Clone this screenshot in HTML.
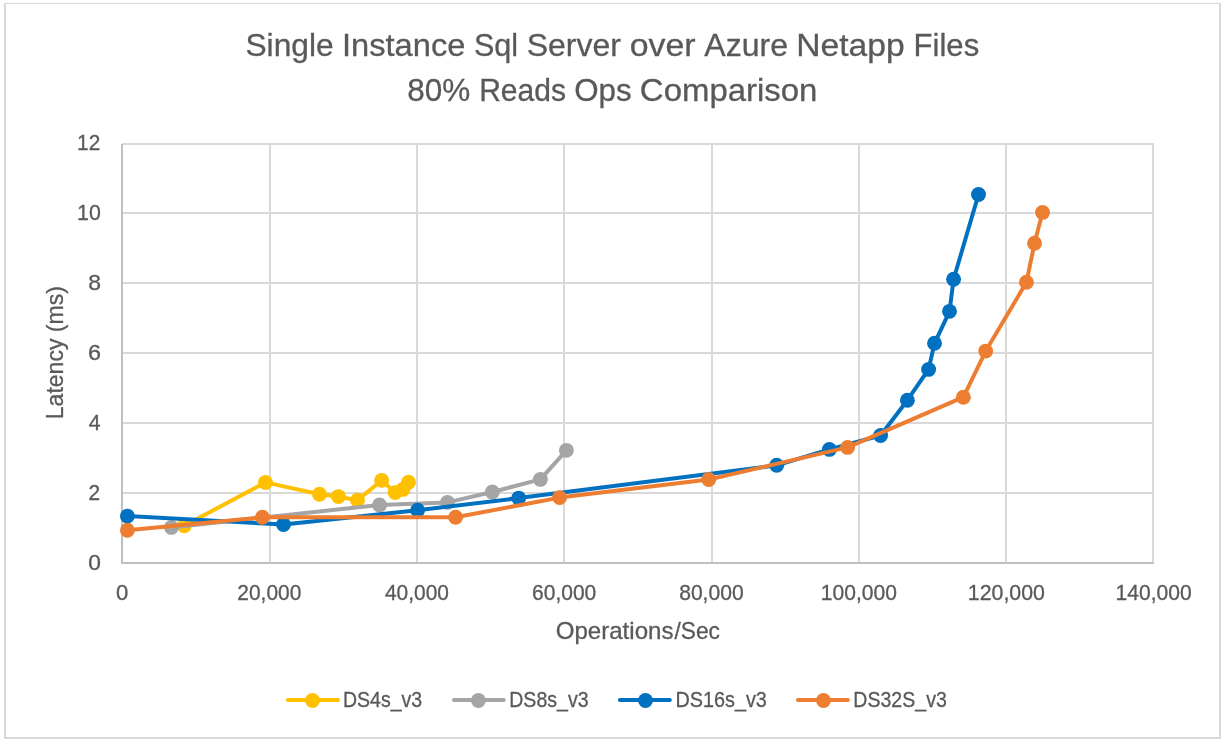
<!DOCTYPE html>
<html><head><meta charset="utf-8"><title>Chart</title>
<style>
html,body{margin:0;padding:0;background:#fff;}
body{width:1221px;height:740px;overflow:hidden;}
svg{display:block;will-change:transform;}
text{font-family:"Liberation Sans",sans-serif;fill:#595959;stroke:#595959;stroke-width:0.3px;}
</style></head><body>
<svg width="1221" height="740" viewBox="0 0 1221 740">
<rect x="0" y="0" width="1221" height="740" fill="#fff"/>
<g fill="#D9D9D9"><rect x="4" y="3" width="2" height="736"/><rect x="1219" y="3" width="2" height="736"/><rect x="4" y="2.9" width="1217" height="1.1"/><rect x="4" y="737" width="1217" height="2"/></g>
<g stroke="#D9D9D9" stroke-width="2" fill="none">
<line x1="122.00" y1="493.00" x2="1154.00" y2="493.00"/>
<line x1="122.00" y1="423.00" x2="1154.00" y2="423.00"/>
<line x1="122.00" y1="353.00" x2="1154.00" y2="353.00"/>
<line x1="122.00" y1="283.00" x2="1154.00" y2="283.00"/>
<line x1="122.00" y1="213.00" x2="1154.00" y2="213.00"/>
<line x1="122.00" y1="144.00" x2="1154.00" y2="144.00"/>
<line x1="270.00" y1="143.00" x2="270.00" y2="563.00"/>
<line x1="417.00" y1="143.00" x2="417.00" y2="563.00"/>
<line x1="564.00" y1="143.00" x2="564.00" y2="563.00"/>
<line x1="712.00" y1="143.00" x2="712.00" y2="563.00"/>
<line x1="859.00" y1="143.00" x2="859.00" y2="563.00"/>
<line x1="1006.00" y1="143.00" x2="1006.00" y2="563.00"/>
<line x1="1153.00" y1="143.00" x2="1153.00" y2="563.00"/>
</g>
<g stroke="#BFBFBF" stroke-width="2" fill="none">
<line x1="122.00" y1="144.00" x2="122.00" y2="564.00"/>
<line x1="121.00" y1="563.00" x2="1154.00" y2="563.00"/>
</g>
<g>
<polyline fill="none" stroke="#FFC000" stroke-width="4.0" stroke-linejoin="round" stroke-linecap="round" points="184.20,525.80 265.50,482.40 319.50,494.20 338.40,496.60 357.50,500.30 381.60,480.35 395.20,492.60 402.90,489.40 408.50,482.30"/>
<g fill="#FFC000"><circle cx="184.20" cy="525.80" r="7.45"/><circle cx="265.50" cy="482.40" r="7.45"/><circle cx="319.50" cy="494.20" r="7.45"/><circle cx="338.40" cy="496.60" r="7.45"/><circle cx="357.50" cy="500.30" r="7.45"/><circle cx="381.60" cy="480.35" r="7.45"/><circle cx="395.20" cy="492.60" r="7.45"/><circle cx="402.90" cy="489.40" r="7.45"/><circle cx="408.50" cy="482.30" r="7.45"/></g>
</g>
<g>
<polyline fill="none" stroke="#A5A5A5" stroke-width="4.0" stroke-linejoin="round" stroke-linecap="round" points="171.40,527.40 379.50,505.00 447.50,502.40 492.30,492.00 540.40,479.40 566.40,450.35"/>
<g fill="#A5A5A5"><circle cx="171.40" cy="527.40" r="7.45"/><circle cx="379.50" cy="505.00" r="7.45"/><circle cx="447.50" cy="502.40" r="7.45"/><circle cx="492.30" cy="492.00" r="7.45"/><circle cx="540.40" cy="479.40" r="7.45"/><circle cx="566.40" cy="450.35" r="7.45"/></g>
</g>
<g>
<polyline fill="none" stroke="#0070C0" stroke-width="4.0" stroke-linejoin="round" stroke-linecap="round" points="127.40,516.10 283.50,524.50 417.60,510.20 518.70,498.10 776.70,465.30 829.40,449.40 880.60,435.50 907.40,400.20 928.60,369.40 934.50,343.30 949.50,311.35 953.60,279.30 978.50,194.50"/>
<g fill="#0070C0"><circle cx="127.40" cy="516.10" r="7.45"/><circle cx="283.50" cy="524.50" r="7.45"/><circle cx="417.60" cy="510.20" r="7.45"/><circle cx="518.70" cy="498.10" r="7.45"/><circle cx="776.70" cy="465.30" r="7.45"/><circle cx="829.40" cy="449.40" r="7.45"/><circle cx="880.60" cy="435.50" r="7.45"/><circle cx="907.40" cy="400.20" r="7.45"/><circle cx="928.60" cy="369.40" r="7.45"/><circle cx="934.50" cy="343.30" r="7.45"/><circle cx="949.50" cy="311.35" r="7.45"/><circle cx="953.60" cy="279.30" r="7.45"/><circle cx="978.50" cy="194.50" r="7.45"/></g>
</g>
<g>
<polyline fill="none" stroke="#ED7D31" stroke-width="4.0" stroke-linejoin="round" stroke-linecap="round" points="127.40,530.30 262.40,517.30 455.60,517.30 559.60,497.60 708.70,479.50 847.60,447.40 963.40,397.20 985.70,351.10 1026.45,282.30 1034.50,243.30 1042.50,212.40"/>
<g fill="#ED7D31"><circle cx="127.40" cy="530.30" r="7.45"/><circle cx="262.40" cy="517.30" r="7.45"/><circle cx="455.60" cy="517.30" r="7.45"/><circle cx="559.60" cy="497.60" r="7.45"/><circle cx="708.70" cy="479.50" r="7.45"/><circle cx="847.60" cy="447.40" r="7.45"/><circle cx="963.40" cy="397.20" r="7.45"/><circle cx="985.70" cy="351.10" r="7.45"/><circle cx="1026.45" cy="282.30" r="7.45"/><circle cx="1034.50" cy="243.30" r="7.45"/><circle cx="1042.50" cy="212.40" r="7.45"/></g>
</g>
<line x1="287.90" y1="699.9" x2="338.00" y2="699.9" stroke="#FFC000" stroke-width="4.0" stroke-linecap="round"/><circle cx="312.47" cy="700.5" r="7.45" fill="#FFC000"/>
<line x1="453.96" y1="699.9" x2="503.77" y2="699.9" stroke="#A5A5A5" stroke-width="4.0" stroke-linecap="round"/><circle cx="478.40" cy="700.5" r="7.45" fill="#A5A5A5"/>
<line x1="619.94" y1="699.9" x2="669.84" y2="699.9" stroke="#0070C0" stroke-width="4.0" stroke-linecap="round"/><circle cx="645.46" cy="700.5" r="7.45" fill="#0070C0"/>
<line x1="797.94" y1="699.9" x2="847.84" y2="699.9" stroke="#ED7D31" stroke-width="4.0" stroke-linecap="round"/><circle cx="823.46" cy="700.5" r="7.45" fill="#ED7D31"/>
<text transform="translate(62.6,352.7) rotate(-90)" x="0" y="0" font-size="24.0" text-anchor="middle" textLength="133.0" lengthAdjust="spacingAndGlyphs">Latency (ms)</text>
<text x="245.48" y="56.4" font-size="31.2" textLength="88.18" lengthAdjust="spacingAndGlyphs">Single</text>
<text x="341.92" y="56.4" font-size="31.2" textLength="123.51" lengthAdjust="spacingAndGlyphs">Instance</text>
<text x="473.90" y="56.4" font-size="31.2" textLength="44.18" lengthAdjust="spacingAndGlyphs">Sql</text>
<text x="526.65" y="56.4" font-size="31.2" textLength="94.20" lengthAdjust="spacingAndGlyphs">Server</text>
<text x="629.78" y="56.4" font-size="31.2" textLength="65.87" lengthAdjust="spacingAndGlyphs">over</text>
<text x="704.31" y="56.4" font-size="31.2" textLength="83.70" lengthAdjust="spacingAndGlyphs">Azure</text>
<text x="796.28" y="56.4" font-size="31.2" textLength="108.39" lengthAdjust="spacingAndGlyphs">Netapp</text>
<text x="913.58" y="56.4" font-size="31.2" textLength="65.60" lengthAdjust="spacingAndGlyphs">Files</text>
<text x="407.33" y="100.8" font-size="31.2" textLength="63.05" lengthAdjust="spacingAndGlyphs">80%</text>
<text x="479.14" y="100.8" font-size="31.2" textLength="86.81" lengthAdjust="spacingAndGlyphs">Reads</text>
<text x="574.15" y="100.8" font-size="31.2" textLength="57.43" lengthAdjust="spacingAndGlyphs">Ops</text>
<text x="639.89" y="100.8" font-size="31.2" textLength="177.57" lengthAdjust="spacingAndGlyphs">Comparison</text>
<text x="116.12" y="599.9" font-size="21.3" textLength="12.30" lengthAdjust="spacingAndGlyphs">0</text>
<text x="237.34" y="599.9" font-size="21.3" textLength="64.01" lengthAdjust="spacingAndGlyphs">20,000</text>
<text x="384.90" y="599.9" font-size="21.3" textLength="64.02" lengthAdjust="spacingAndGlyphs">40,000</text>
<text x="532.11" y="599.9" font-size="21.3" textLength="64.18" lengthAdjust="spacingAndGlyphs">60,000</text>
<text x="679.20" y="599.9" font-size="21.3" textLength="64.42" lengthAdjust="spacingAndGlyphs">80,000</text>
<text x="820.79" y="599.9" font-size="21.3" textLength="76.06" lengthAdjust="spacingAndGlyphs">100,000</text>
<text x="967.82" y="599.9" font-size="21.3" textLength="77.07" lengthAdjust="spacingAndGlyphs">120,000</text>
<text x="1115.56" y="599.9" font-size="21.3" textLength="76.07" lengthAdjust="spacingAndGlyphs">140,000</text>
<text x="88.32" y="569.8" font-size="21.3" textLength="12.67" lengthAdjust="spacingAndGlyphs">0</text>
<text x="88.61" y="499.8" font-size="21.3" textLength="11.64" lengthAdjust="spacingAndGlyphs">2</text>
<text x="88.71" y="429.8" font-size="21.3" textLength="11.77" lengthAdjust="spacingAndGlyphs">4</text>
<text x="87.93" y="359.8" font-size="21.3" textLength="13.02" lengthAdjust="spacingAndGlyphs">6</text>
<text x="88.19" y="289.8" font-size="21.3" textLength="12.77" lengthAdjust="spacingAndGlyphs">8</text>
<text x="77.07" y="219.7" font-size="21.3" textLength="23.74" lengthAdjust="spacingAndGlyphs">10</text>
<text x="77.11" y="150.0" font-size="21.3" textLength="23.10" lengthAdjust="spacingAndGlyphs">12</text>
<text x="555.78" y="638.8" font-size="23.4" textLength="117.64" lengthAdjust="spacingAndGlyphs">Operations</text>
<text x="674.47" y="638.8" font-size="23.4" textLength="45.50" lengthAdjust="spacingAndGlyphs">/Sec</text>
<text x="342.95" y="707.0" font-size="21.3" textLength="79.21" lengthAdjust="spacingAndGlyphs">DS4s_v3</text>
<text x="509.24" y="707.0" font-size="21.3" textLength="79.32" lengthAdjust="spacingAndGlyphs">DS8s_v3</text>
<text x="675.51" y="707.0" font-size="21.3" textLength="91.33" lengthAdjust="spacingAndGlyphs">DS16s_v3</text>
<text x="853.37" y="707.0" font-size="21.3" textLength="93.43" lengthAdjust="spacingAndGlyphs">DS32S_v3</text>
</svg>
</body></html>
